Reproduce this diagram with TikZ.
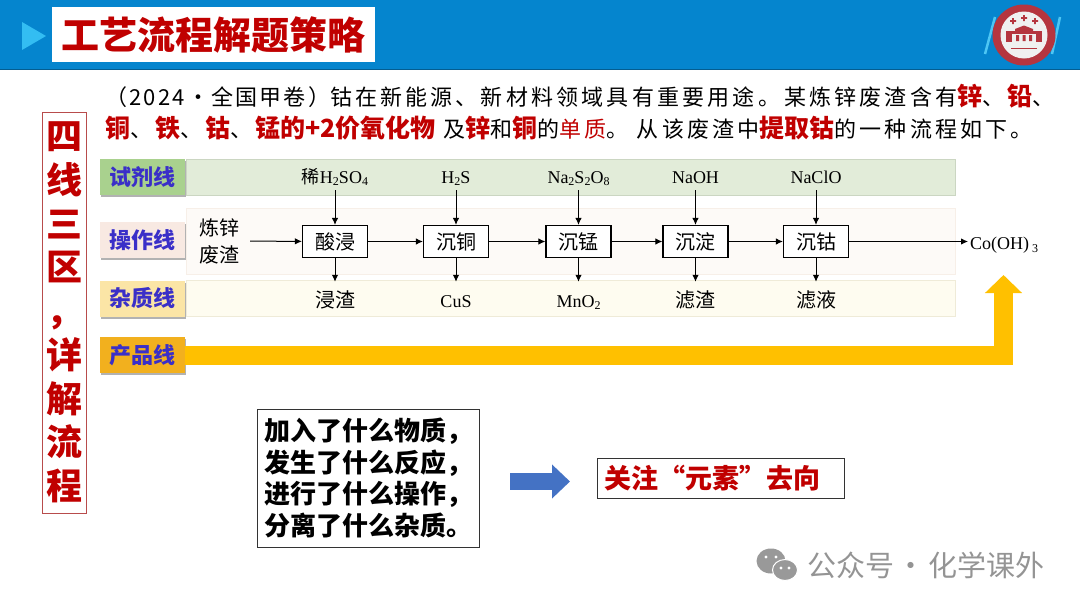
\documentclass[tikz,border=0pt]{standalone}
\usepackage{fontspec}
\setmainfont{Noto Sans CJK SC}
\newfontfamily\chemfont{Liberation Serif}
\newfontfamily\parafont[LetterSpace=14.5]{Noto Sans CJK SC}
\newfontfamily\paranarrow[LetterSpace=10]{Noto Sans CJK SC}
\usepackage{xcolor}
\usetikzlibrary{arrows.meta,positioning,shadows}
\definecolor{headblue}{HTML}{0585CE}
\definecolor{darkred}{HTML}{C00000}
\definecolor{labelblue}{HTML}{3A2FC8}
\definecolor{prodyellow}{HTML}{FFC000}
\definecolor{badgered}{HTML}{B5353F}
\definecolor{arrowblue}{HTML}{4472C4}
\definecolor{greenlabel}{HTML}{A9D18E}
\definecolor{pinklabel}{HTML}{F8E9E2}
\definecolor{paleyellow}{HTML}{FBE5A6}
\definecolor{amberlabel}{HTML}{F2B01E}
\definecolor{greenband}{HTML}{E2ECD9}
\definecolor{greenedge}{HTML}{CBD6C2}
\definecolor{pinkband}{HTML}{FDFAF7}
\definecolor{pinkedge}{HTML}{F7EFE8}
\definecolor{yellowband}{HTML}{FEFCF0}
\definecolor{yellowedge}{HTML}{EFEBD8}
\newcommand{\hl}[1]{{\color{darkred}\fontsize{25}{32}\selectfont\rmfamily\bfseries #1}}
\newcommand{\lo}[1]{\raisebox{-0.35ex}{\fontsize{12}{12}\selectfont #1}}
\newcommand{\dun}{、\hspace{3pt}}

\begin{document}
\begin{tikzpicture}[
  x=1pt, y=-1pt,
  labelbox/.style={inner sep=0pt, minimum width=85pt, minimum height=36pt, text=labelblue,
    font=\fontsize{22}{26}\selectfont\bfseries,
    drop shadow={shadow xshift=0.5pt, shadow yshift=-2pt, fill=black!60, opacity=.5}},
  band/.style={draw, line width=1pt, minimum width=769pt, inner sep=0pt},
  procbox/.style={draw, line width=1.2pt, fill=white, minimum width=65pt, minimum height=32pt,
    inner sep=0pt, font=\fontsize{20}{24}\selectfont},
  chem/.style={inner sep=0pt, text height=19pt, text depth=7pt,
    font=\fontsize{18}{22}\selectfont\chemfont},
  waste/.style={inner sep=0pt, text height=25pt, text depth=7pt,
    font=\fontsize{20}{24}\selectfont},
  arr/.style={-{Latex[length=7pt,width=6.5pt]}, line width=1pt},
  node distance=55pt
]
\useasboundingbox (0,0) rectangle (1080,608);

% header
\fill[headblue] (0,0) rectangle (1080,69.5);
\draw[black!30!headblue, line width=1pt] (0,69.5) -- (1080,69.5);
\fill[cyan!80!white] (22,22) -- (46,36) -- (22,50) -- cycle;
\node[fill=white, minimum width=323pt, minimum height=55pt, inner sep=0pt, text=darkred,
  font=\fontsize{38}{42}\selectfont\bfseries] (title) at (213.5,34.5) {工艺流程解题策略};

% badge
\draw[cyan!70!white, line width=2.5pt] (985,54) -- (995,17) (1052,54) -- (1060,17);
\fill[badgered] (1024,35) circle[x radius=31.5, y radius=30.5];
\fill[black!6] (1024,35) circle[radius=23.5];
\fill[badgered] (1006,31) rectangle (1042,42);
\fill[black!6] (1012,34) rectangle (1036,42);
\fill[badgered] (1015,29) -- (1024,25.5) -- (1033,29) -- (1033,33) -- (1015,33) -- cycle
  (1016,35) rectangle (1019,41) (1022.5,35) rectangle (1025.5,41) (1029,35) rectangle (1032,41);
\foreach \cx/\cy in {1013/21, 1024/18, 1035/21}
  \fill[badgered] (\cx-3,\cy-0.8) rectangle (\cx+3,\cy+0.8) (\cx-0.8,\cy-3) rectangle (\cx+0.8,\cy+3);
\draw[badgered, line width=0.5pt] (1011,48) -- (1037,48);

% question text
\node[anchor=west, inner sep=0pt, align=left, font=\fontsize{22}{32}\selectfont\parafont] (stem) at (105,112)
  {{\paranarrow （2024·全国甲卷）}钴在新能源\dun 新材料领域具有重要用途。\hspace{4pt}某炼锌废渣含有\hl{锌}\dun\hl{铅}、\\
   \hl{铜}\dun\hl{铁}\dun\hl{钴}\dun\hl{锰的+2价氧化物}\hspace{8pt}及\hl{锌}和\hl{铜}的\textcolor{darkred}{单质}。\hspace{8pt}从该废渣中\hl{提取钴}的一种流程如下。};

\node[draw=red!60!black!70!white, line width=0.8pt, minimum width=44pt, minimum height=401pt, inner sep=0pt,
  text=darkred, align=center, font=\fontsize{36}{43.75}\selectfont\bfseries] (lines) at (64,312.5)
  {四\\线\\三\\区\\，\\详\\解\\流\\程};

% line labels and bands
\node[labelbox, fill=greenlabel] (lr) at (142.5,177) {试剂线};
\node[labelbox, fill=pinklabel] (lo) at (142.5,240) {操作线};
\node[labelbox, fill=paleyellow] (li) at (142.5,298.5) {杂质线};
\node[labelbox, fill=amberlabel] (lp) at (142.5,355) {产品线};

\node[band, fill=greenband, draw=greenedge, minimum height=36pt] (rband) at (571,177) {};
\node[band, fill=pinkband, draw=pinkedge, minimum height=66pt] (oband) at (571,241) {};
\node[band, fill=yellowband, draw=yellowedge, minimum height=36pt] (iband) at (571,298) {};

% process
\node[procbox] (b1) at (335,241.5) {酸浸};
\node[procbox, right=54.8pt of b1] (b2) {沉铜};
\node[procbox, right=56.3pt of b2] (b3) {沉锰};
\node[procbox, right=50.8pt of b3] (b4) {沉淀};
\node[procbox, right=54.3pt of b4] (b5) {沉钴};

\node[inner sep=11pt, align=center, font=\fontsize{20}{27}\selectfont] (feed) at (219,241) {炼锌\\废渣};
\node[anchor=west, inner sep=2pt, font=\fontsize{18}{22}\selectfont\chemfont] (prod) at (968,245) {Co(OH)\,\lo{3}};

\node[chem] (r1) at (b1 |- rband) {{\rmfamily 稀}H\lo{2}SO\lo{4}};
\node[chem] (r2) at (b2 |- rband) {H\lo{2}S};
\node[chem] (r3) at (b3 |- rband) {Na\lo{2}S\lo{2}O\lo{8}};
\node[chem] (r4) at (b4 |- rband) {NaOH};
\node[chem] (r5) at (b5 |- rband) {NaClO};

\node[waste] (w1) at (b1 |- iband) {浸渣};
\node[waste, font=\fontsize{18}{22}\selectfont\chemfont] (w2) at (b2 |- iband) {CuS};
\node[waste, font=\fontsize{18}{22}\selectfont\chemfont] (w3) at (b3 |- iband) {MnO\lo{2}};
\node[waste] (w4) at (b4 |- iband) {滤渣};
\node[waste] (w5) at (b5 |- iband) {滤液};

\foreach \a/\b in {feed/b1, b1/b2, b2/b3, b3/b4, b4/b5}
  \draw[arr] (\a) -- (\b);
\draw[arr] (b5) -- (prod.west |- b5);
\foreach \i in {1,...,5} {
  \draw[arr] (b\i |- r\i.south) -- (b\i);
  \draw[arr] (b\i) -- (b\i |- w\i.north);
}

% product line
\coordinate (ptip) at (1003.5,275);
\draw[prodyellow, line width=19pt, -{Triangle[length=18pt,width=36pt]}] (lp.east) -| (ptip);

% bottom notes
\node[draw=black!80, line width=0.8pt, minimum width=222pt, minimum height=138pt, inner sep=0pt, align=left,
  font=\fontsize{26}{31.5}\selectfont\bfseries] (ask) at (368,478)
  {加入了什么物质，\\发生了什么反应，\\进行了什么操作，\\分离了什么杂质。};
\node[draw=black!80, line width=0.8pt, text width=233pt, inner xsep=7pt, inner ysep=0pt, minimum height=40pt,
  align=left, text=darkred, font=\fontsize{27}{32}\selectfont\bfseries] (focus) at (720.5,478) {关注“元素”去向};
\coordinate (ba) at (510,481.5);
\coordinate (bb) at (570,481.5);
\draw[arrowblue, line width=17pt, -{Triangle[length=18pt,width=33pt]}] (ba) -- (bb);

% watermark
\fill[black!40] (771,561) ellipse[x radius=14.5, y radius=12.5];
\fill[black!40, draw=white, line width=1pt] (785,570) ellipse[x radius=12.5, y radius=10.5];
\foreach \ex/\ey in {766/557, 776/557, 781/568, 789/568}
  \fill[white] (\ex,\ey) circle[radius=1.7];
\node[inner sep=0pt, anchor=west, text=black!42, font=\fontsize{29}{32}\selectfont] (mark) at (807,565)
  {公众号\hspace{2.5pt}·\hspace{2.5pt}化学课外};
\end{tikzpicture}
\end{document}
